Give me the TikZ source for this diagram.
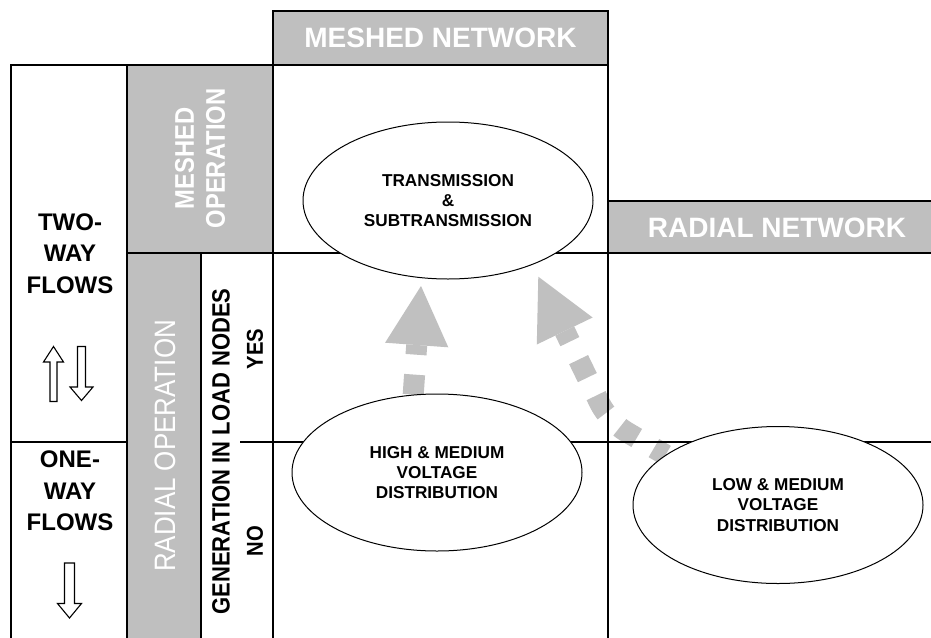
\documentclass[tikz,border=0pt]{standalone}
\usepackage{fontspec}
\setmainfont{Liberation Sans}
\newfontfamily\vfont[FakeStretch=0.88]{Liberation Sans}
\usetikzlibrary{shapes.geometric}
\definecolor{hdrgray}{RGB}{191,191,191}
\definecolor{arrgray}{RGB}{192,192,192}
\pgfdeclarelayer{back}
\pgfdeclarelayer{arrows}
\pgfdeclarelayer{lines}
\pgfsetlayers{back,arrows,lines,main}
\begin{document}
\begin{tikzpicture}[x=1pt,y=-1pt,
  grid/.style={line width=1.8pt, draw=black},
  hdr/.style={fill=hdrgray, draw=black, line width=1.8pt},
  hdrtxt/.style={text=white, font=\fontsize{28}{30}\selectfont\bfseries, inner sep=0pt},
  ell/.style={ellipse, draw=black, fill=white, line width=1pt, minimum width=290pt, minimum height=157pt, inner sep=0pt, align=center, font=\fontsize{17.2}{20.3}\selectfont\bfseries},
  flowtxt/.style={align=center, font=\fontsize{24}{31.5}\selectfont\bfseries, inner sep=0pt},
  vtxt/.style={rotate=90, inner sep=0pt, align=center},
  hollow/.style={draw=black, fill=white, line width=1.1pt, line join=miter},
  gflow/.style={draw=arrgray, line width=21pt, dash pattern=on 20pt off 20pt},
  ghead/.style={fill=arrgray},
]
\clip (0,0) rectangle (931,637);

% ellipses (main layer)
\node[ell] (trans) at (448,200.5) {TRANSMISSION\\\&\\SUBTRANSMISSION};
\node[ell] (hmv) at (437,472.5) {HIGH \& MEDIUM\\VOLTAGE\\DISTRIBUTION};
\node[ell] (lmv) at (778,505) {LOW \& MEDIUM\\VOLTAGE\\DISTRIBUTION};

% background fills and headers
\begin{pgfonlayer}{back}
\fill[white] (0,0) rectangle (931,637);
\fill[hdrgray] (127,65) rectangle (273,253);
\fill[hdrgray] (127,253) rectangle (201,640);
\draw[hdr] (273,11) rectangle (608,65);
\draw[hdr] (608,201) rectangle (945,253);
\end{pgfonlayer}

% grey dashed flow arrows
\coordinate (hb1) at (416.7,345);
\coordinate (tip1) at (421,286);
\coordinate (c1a) at (385.1,342.7);
\coordinate (c1b) at (448.3,347.3);
\coordinate (bend2) at (608.6,421.4);
\coordinate (hb2) at (564.7,331);
\coordinate (tip2) at (538.3,276.7);
\coordinate (c2a) at (592.6,317.5);
\coordinate (c2b) at (536.8,344.5);
\begin{pgfonlayer}{arrows}
\draw[gflow] (hmv.107) -- (hb1);
\fill[ghead] (tip1) -- (c1a) -- (c1b) -- cycle;
\draw[gflow, dash phase=6.6pt, rounded corners=20pt] (lmv.156) -- (bend2) -- (hb2);
\fill[ghead] (tip2) -- (c2a) -- (c2b) -- cycle;
\end{pgfonlayer}

% grid lines
\begin{pgfonlayer}{lines}
\draw[grid] (11,640) -- (11,65) -- (608,65);
\draw[grid] (127,65) -- (127,640);
\draw[grid] (201,253) -- (201,640);
\draw[grid] (273,11) -- (273,640);
\draw[grid] (608,11) -- (608,640);
\draw[grid] (127,253) -- (945,253);
\draw[grid] (11,442) -- (127,442);
\draw[grid] (240,442) -- (945,442);
\draw[hdr, fill=none] (273,11) rectangle (608,65);
\draw[hdr, fill=none] (608,201) rectangle (945,253);
\end{pgfonlayer}

% header texts
\node[hdrtxt] (mn) at (440.5,38) {MESHED NETWORK};
\node[hdrtxt] (rn) at (777,228) {RADIAL NETWORK};

% vertical texts
\node[vtxt, text=white, font=\vfont\fontsize{27}{31}\selectfont\bfseries] (mo) at (200,158.5) {MESHED\\OPERATION};
\node[vtxt, text=white, font=\vfont\fontsize{29.5}{31}\selectfont] (ro) at (165,446) {RADIAL OPERATION};
\node[vtxt, font=\vfont\fontsize{25}{28}\selectfont\bfseries] (gl) at (221,451.5) {GENERATION IN LOAD NODES};
\node[vtxt, font=\vfont\fontsize{23}{28}\selectfont\bfseries] (yes) at (255,349) {YES};
\node[vtxt, font=\vfont\fontsize{23}{28}\selectfont\bfseries] (no) at (255,541) {NO};

% left column
\node[flowtxt] (two) at (70,253.5) {TWO-\\WAY\\FLOWS};
\node[flowtxt] (one) at (70,491) {ONE-\\WAY\\FLOWS};

% hollow arrows
\draw[hollow] (50,401.5) -- (50,362) -- (43.5,362) -- (53.5,346.5) -- (63.5,362) -- (57,362) -- (57,401.5) -- cycle;
\draw[hollow] (77.5,346.5) -- (85.5,346.5) -- (85.5,387) -- (93,387) -- (81.5,400.5) -- (70,387) -- (77.5,387) -- cycle;
\draw[hollow] (64.5,563) -- (74.5,563) -- (74.5,603.5) -- (81.5,603.5) -- (69.5,618) -- (57.5,603.5) -- (64.5,603.5) -- cycle;
\end{tikzpicture}
\end{document}
